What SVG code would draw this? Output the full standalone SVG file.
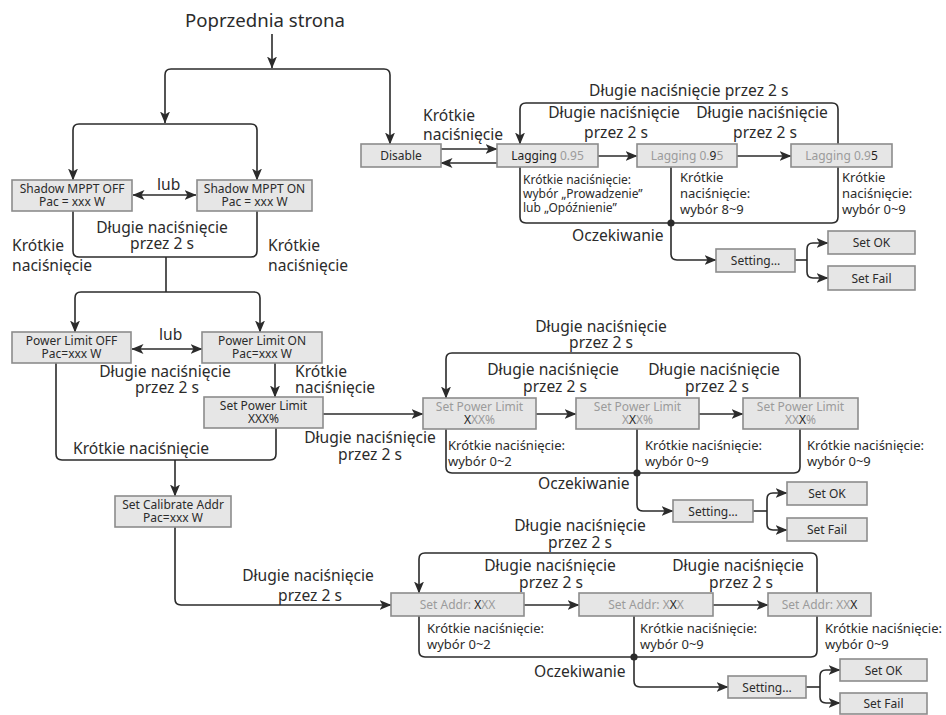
<svg xmlns="http://www.w3.org/2000/svg" width="946" height="715" viewBox="0 0 946 715">
  <style>
    .box { fill: #e6e6e6; stroke: #8c8c8c; stroke-width: 1.6; }
    .bt { font-family: "Noto Sans", "Open Sans", sans-serif; font-size: 12px; fill: #2b2b2b; text-anchor: middle; }
    .g { fill: #9b9b9b; }
    .k { fill: #1e1e1e; }
    .lbl { font-family: "Noto Sans", "Open Sans", sans-serif; font-size: 15.6px; fill: #2b2b2b; }
    .title { font-family: "Noto Sans", "Open Sans", sans-serif; font-size: 18.6px; fill: #2b2b2b; }
    .mid { text-anchor: middle; }
    .sm { font-family: "Noto Sans", "Open Sans", sans-serif; font-size: 13px; fill: #2b2b2b; }
    .xs { font-family: "Noto Sans", "Open Sans", sans-serif; font-size: 12px; fill: #2b2b2b; }
    .ln { fill: none; stroke: #2b2b2b; stroke-width: 1.6; }
    .arr { marker-end: url(#ah); }
    .both { marker-start: url(#ah); marker-end: url(#ah); }
    .dot { fill: #2b2b2b; }
  </style>
  <defs>
    <marker id="ah" viewBox="0 0 12 10" refX="11.5" refY="5" markerWidth="12" markerHeight="10" markerUnits="userSpaceOnUse" orient="auto-start-reverse">
      <path d="M0,0 L12,5 L0,10 L3,5 Z" fill="#2b2b2b"/>
    </marker>
  </defs>

  <rect width="946" height="715" fill="#ffffff"/>

  <!-- connectors -->
  <g id="connectors">
    <!-- entry -->
    <path class="ln arr" d="M272,34 L272,68"/>
    <path class="ln arr" d="M272,69 L171,69 Q165,69 165,75 L165,123"/>
    <path class="ln arr" d="M272,69 L384,69 Q390,69 390,75 L390,144"/>
    <!-- shadow MPPT -->
    <path class="ln arr" d="M165,124 L79,124 Q73,124 73,130 L73,180"/>
    <path class="ln arr" d="M165,124 L251,124 Q257,124 257,130 L257,180"/>
    <path class="ln both" d="M133,195 L196,195"/>
    <path class="ln" d="M73,211 L73,251 Q73,257 79,257 L251,257 Q257,257 257,251 L257,211"/>
    <path class="ln" d="M166,257 L166,292"/>
    <!-- power limit -->
    <path class="ln arr" d="M166,292 L81,292 Q75,292 75,298 L75,332"/>
    <path class="ln arr" d="M166,292 L254,292 Q260,292 260,298 L260,332"/>
    <path class="ln both" d="M132,349 L202,349"/>
    <path class="ln" d="M56,363 L56,454 Q56,460 62,460 L270,460 Q276,460 276,454 L276,428"/>
    <path class="ln arr" d="M175,460 L175,496"/>
    <path class="ln arr" d="M275,363 L275,397"/>
    <path class="ln arr" d="M323,414 L423,414"/>
    <path class="ln arr" d="M175,527 L175,599 Q175,605 181,605 L391,605"/>

    <!-- power factor chain -->
    <path class="ln arr" d="M441,149 L497,149"/>
    <path class="ln arr" d="M497,163 L441,163"/>
    <path class="ln arr" d="M598,156 L637,156"/>
    <path class="ln arr" d="M737,156 L791,156"/>
    <path class="ln arr" d="M838,144 L838,109 Q838,103 832,103 L526,103 Q520,103 520,109 L520,144"/>
    <path class="ln" d="M520,167 L520,217 Q520,223 526,223 L832,223 Q838,223 838,217 L838,167"/>
    <path class="ln arr" d="M671,167 L671,254 Q671,260 677,260 L716,260"/>
    <circle class="dot" cx="671" cy="223" r="3.6"/>
    <path class="ln" d="M795,260 L807,260"/>
    <path class="ln arr" d="M807,260 L807,249 Q807,243 813,243 L828,243"/>
    <path class="ln arr" d="M807,260 L807,272 Q807,278 813,278 L828,278"/>

    <!-- power limit value chain -->
    <path class="ln arr" d="M536,414 L576,414"/>
    <path class="ln arr" d="M699,414 L743,414"/>
    <path class="ln arr" d="M800,398 L800,359 Q800,353 794,353 L452,353 Q446,353 446,359 L446,398"/>
    <path class="ln" d="M446,429 L446,467 Q446,473 452,473 L794,473 Q800,473 800,467 L800,429"/>
    <path class="ln arr" d="M637,429 L637,505 Q637,511 643,511 L673,511"/>
    <circle class="dot" cx="637" cy="473" r="3.6"/>
    <path class="ln" d="M753,511 L767,511"/>
    <path class="ln arr" d="M767,511 L767,499 Q767,493 773,493 L787,493"/>
    <path class="ln arr" d="M767,511 L767,524 Q767,530 773,530 L787,530"/>

    <!-- address chain -->
    <path class="ln arr" d="M524,605 L579,605"/>
    <path class="ln arr" d="M713,605 L768,605"/>
    <path class="ln arr" d="M817,593 L817,559 Q817,553 811,553 L425,553 Q419,553 419,559 L419,593"/>
    <path class="ln" d="M419,616 L419,651 Q419,657 425,657 L811,657 Q817,657 817,651 L817,616"/>
    <path class="ln arr" d="M634,616 L634,681 Q634,687 640,687 L728,687"/>
    <circle class="dot" cx="634" cy="657" r="3.6"/>
    <path class="ln" d="M806,687 L820,687"/>
    <path class="ln arr" d="M820,687 L820,676 Q820,670 826,670 L840,670"/>
    <path class="ln arr" d="M820,687 L820,697 Q820,703 826,703 L840,703"/>
  </g>

  <!-- nodes -->
  <g id="shadow-off">
    <rect class="box" x="12" y="180" width="120" height="31"/>
    <text class="bt" x="72" y="193">Shadow MPPT OFF</text>
    <text class="bt" x="72" y="206">Pac = xxx W</text>
  </g>
  <g id="shadow-on">
    <rect class="box" x="197" y="180" width="115" height="31"/>
    <text class="bt" x="254.5" y="193">Shadow MPPT ON</text>
    <text class="bt" x="254.5" y="206">Pac = xxx W</text>
  </g>
  <g id="power-limit-off">
    <rect class="box" x="12" y="332" width="119" height="31"/>
    <text class="bt" x="71.5" y="345">Power Limit OFF</text>
    <text class="bt" x="71.5" y="358">Pac=xxx W</text>
  </g>
  <g id="power-limit-on">
    <rect class="box" x="202" y="332" width="120" height="31"/>
    <text class="bt" x="262" y="345">Power Limit ON</text>
    <text class="bt" x="262" y="358">Pac=xxx W</text>
  </g>
  <g id="set-power-limit">
    <rect class="box" x="204" y="397" width="119" height="31"/>
    <text class="bt" x="263.5" y="410">Set Power Limit</text>
    <text class="bt" x="263.5" y="423">XXX%</text>
  </g>
  <g id="set-calibrate-addr">
    <rect class="box" x="115" y="496" width="116" height="31"/>
    <text class="bt" x="173" y="509">Set Calibrate Addr</text>
    <text class="bt" x="173" y="522">Pac=xxx W</text>
  </g>

  <g id="disable">
    <rect class="box" x="361" y="144" width="80" height="23"/>
    <text class="bt" x="401" y="160">Disable</text>
  </g>
  <g id="lagging-1">
    <rect class="box" x="497" y="144" width="101" height="23"/>
    <text class="bt" x="547.5" y="160"><tspan class="k">Lagging</tspan><tspan class="g"> 0.95</tspan></text>
  </g>
  <g id="lagging-2">
    <rect class="box" x="637" y="144" width="100" height="23"/>
    <text class="bt" x="687" y="160"><tspan class="g">Lagging 0.</tspan><tspan class="k">9</tspan><tspan class="g">5</tspan></text>
  </g>
  <g id="lagging-3">
    <rect class="box" x="791" y="144" width="101" height="23"/>
    <text class="bt" x="841.5" y="160"><tspan class="g">Lagging 0.9</tspan><tspan class="k">5</tspan></text>
  </g>
  <g id="setting-1">
    <rect class="box" x="716" y="249" width="79" height="23"/>
    <text class="bt" x="755.5" y="265">Setting…</text>
  </g>
  <g id="set-ok-1">
    <rect class="box" x="828" y="231" width="87" height="23"/>
    <text class="bt" x="871.5" y="247">Set OK</text>
  </g>
  <g id="set-fail-1">
    <rect class="box" x="828" y="266" width="87" height="24"/>
    <text class="bt" x="871.5" y="282.5">Set Fail</text>
  </g>

  <g id="spl-1">
    <rect class="box" x="423" y="398" width="113" height="31"/>
    <text class="bt g" x="479.5" y="411">Set Power Limit</text>
    <text class="bt" x="479.5" y="424"><tspan class="k">X</tspan><tspan class="g">XX%</tspan></text>
  </g>
  <g id="spl-2">
    <rect class="box" x="576" y="398" width="123" height="31"/>
    <text class="bt g" x="637.5" y="411">Set Power Limit</text>
    <text class="bt" x="637.5" y="424"><tspan class="g">X</tspan><tspan class="k">X</tspan><tspan class="g">X%</tspan></text>
  </g>
  <g id="spl-3">
    <rect class="box" x="743" y="398" width="115" height="31"/>
    <text class="bt g" x="800.5" y="411">Set Power Limit</text>
    <text class="bt" x="800.5" y="424"><tspan class="g">XX</tspan><tspan class="k">X</tspan><tspan class="g">%</tspan></text>
  </g>
  <g id="setting-2">
    <rect class="box" x="673" y="500" width="80" height="22"/>
    <text class="bt" x="713" y="515.5">Setting…</text>
  </g>
  <g id="set-ok-2">
    <rect class="box" x="787" y="482" width="80" height="23"/>
    <text class="bt" x="827" y="498">Set OK</text>
  </g>
  <g id="set-fail-2">
    <rect class="box" x="787" y="518" width="80" height="23"/>
    <text class="bt" x="827" y="534">Set Fail</text>
  </g>

  <g id="addr-1">
    <rect class="box" x="391" y="593" width="133" height="23"/>
    <text class="bt" x="457.5" y="609"><tspan class="g">Set Addr: </tspan><tspan class="k">X</tspan><tspan class="g">XX</tspan></text>
  </g>
  <g id="addr-2">
    <rect class="box" x="579" y="593" width="134" height="23"/>
    <text class="bt" x="646" y="609"><tspan class="g">Set Addr: X</tspan><tspan class="k">X</tspan><tspan class="g">X</tspan></text>
  </g>
  <g id="addr-3">
    <rect class="box" x="768" y="593" width="103" height="23"/>
    <text class="bt" x="819.5" y="609"><tspan class="g">Set Addr: XX</tspan><tspan class="k">X</tspan></text>
  </g>
  <g id="setting-3">
    <rect class="box" x="728" y="676" width="78" height="22"/>
    <text class="bt" x="767" y="691.5">Setting…</text>
  </g>
  <g id="set-ok-3">
    <rect class="box" x="840" y="659" width="87" height="22"/>
    <text class="bt" x="883.5" y="674.5">Set OK</text>
  </g>
  <g id="set-fail-3">
    <rect class="box" x="840" y="693" width="87" height="21"/>
    <text class="bt" x="883.5" y="708">Set Fail</text>
  </g>

  <!-- labels -->
  <g id="labels">
    <text class="title" x="185" y="27">Poprzednia strona</text>

    <text class="lbl" x="157" y="190">lub</text>
    <text class="lbl mid" x="162" y="233">Długie naciśnięcie</text>
    <text class="lbl mid" x="162" y="249">przez 2 s</text>
    <text class="lbl" x="12" y="251">Krótkie</text>
    <text class="lbl" x="12" y="271">naciśnięcie</text>
    <text class="lbl" x="268" y="251">Krótkie</text>
    <text class="lbl" x="268" y="271">naciśnięcie</text>

    <text class="lbl" x="159" y="340">lub</text>
    <text class="lbl mid" x="165" y="377">Długie naciśnięcie</text>
    <text class="lbl mid" x="167" y="393">przez 2 s</text>
    <text class="lbl" x="295" y="377">Krótkie</text>
    <text class="lbl" x="295" y="393">naciśnięcie</text>
    <text class="lbl" x="73" y="454">Krótkie naciśnięcie</text>
    <text class="lbl mid" x="370" y="443">Długie naciśnięcie</text>
    <text class="lbl mid" x="370" y="460">przez 2 s</text>
    <text class="lbl mid" x="308" y="581">Długie naciśnięcie</text>
    <text class="lbl mid" x="310" y="601">przez 2 s</text>

    <!-- power factor chain labels -->
    <text class="lbl" x="423" y="121">Krótkie</text>
    <text class="lbl" x="423" y="140">naciśnięcie</text>
    <text class="lbl" x="589" y="96">Długie naciśnięcie przez 2 s</text>
    <text class="lbl mid" x="614" y="118">Długie naciśnięcie</text>
    <text class="lbl mid" x="616" y="138">przez 2 s</text>
    <text class="lbl mid" x="762" y="118">Długie naciśnięcie</text>
    <text class="lbl mid" x="765" y="138">przez 2 s</text>
    <text class="xs" x="523" y="184">Krótkie naciśnięcie:</text>
    <text class="xs" x="523" y="198">wybór „Prowadzenie”</text>
    <text class="xs" x="523" y="212">lub „Opóźnienie”</text>
    <text class="sm" x="680" y="182">Krótkie</text>
    <text class="sm" x="680" y="198">naciśnięcie:</text>
    <text class="sm" x="680" y="214">wybór 8~9</text>
    <text class="sm" x="842" y="182">Krótkie</text>
    <text class="sm" x="842" y="198">naciśnięcie:</text>
    <text class="sm" x="842" y="214">wybór 0~9</text>
    <text class="lbl" x="572" y="241">Oczekiwanie</text>

    <!-- power limit value chain labels -->
    <text class="lbl mid" x="601" y="332">Długie naciśnięcie</text>
    <text class="lbl mid" x="601" y="348">przez 2 s</text>
    <text class="lbl mid" x="553" y="375">Długie naciśnięcie</text>
    <text class="lbl mid" x="555" y="392">przez 2 s</text>
    <text class="lbl mid" x="714" y="375">Długie naciśnięcie</text>
    <text class="lbl mid" x="717" y="392">przez 2 s</text>
    <text class="sm" x="448" y="450">Krótkie naciśnięcie:</text>
    <text class="sm" x="448" y="466">wybór 0~2</text>
    <text class="sm" x="645" y="450">Krótkie naciśnięcie:</text>
    <text class="sm" x="645" y="466">wybór 0~9</text>
    <text class="sm" x="807" y="450">Krótkie naciśnięcie:</text>
    <text class="sm" x="807" y="466">wybór 0~9</text>
    <text class="lbl" x="538" y="489">Oczekiwanie</text>

    <!-- address chain labels -->
    <text class="lbl mid" x="580" y="531">Długie naciśnięcie</text>
    <text class="lbl mid" x="580" y="548">przez 2 s</text>
    <text class="lbl mid" x="550" y="571">Długie naciśnięcie</text>
    <text class="lbl mid" x="551" y="588">przez 2 s</text>
    <text class="lbl mid" x="738" y="571">Długie naciśnięcie</text>
    <text class="lbl mid" x="741" y="588">przez 2 s</text>
    <text class="sm" x="427" y="633">Krótkie naciśnięcie:</text>
    <text class="sm" x="427" y="649">wybór 0~2</text>
    <text class="sm" x="640" y="633">Krótkie naciśnięcie:</text>
    <text class="sm" x="640" y="649">wybór 0~9</text>
    <text class="sm" x="825" y="633">Krótkie naciśnięcie:</text>
    <text class="sm" x="825" y="649">wybór 0~9</text>
    <text class="lbl" x="534" y="677">Oczekiwanie</text>
  </g>
</svg>
